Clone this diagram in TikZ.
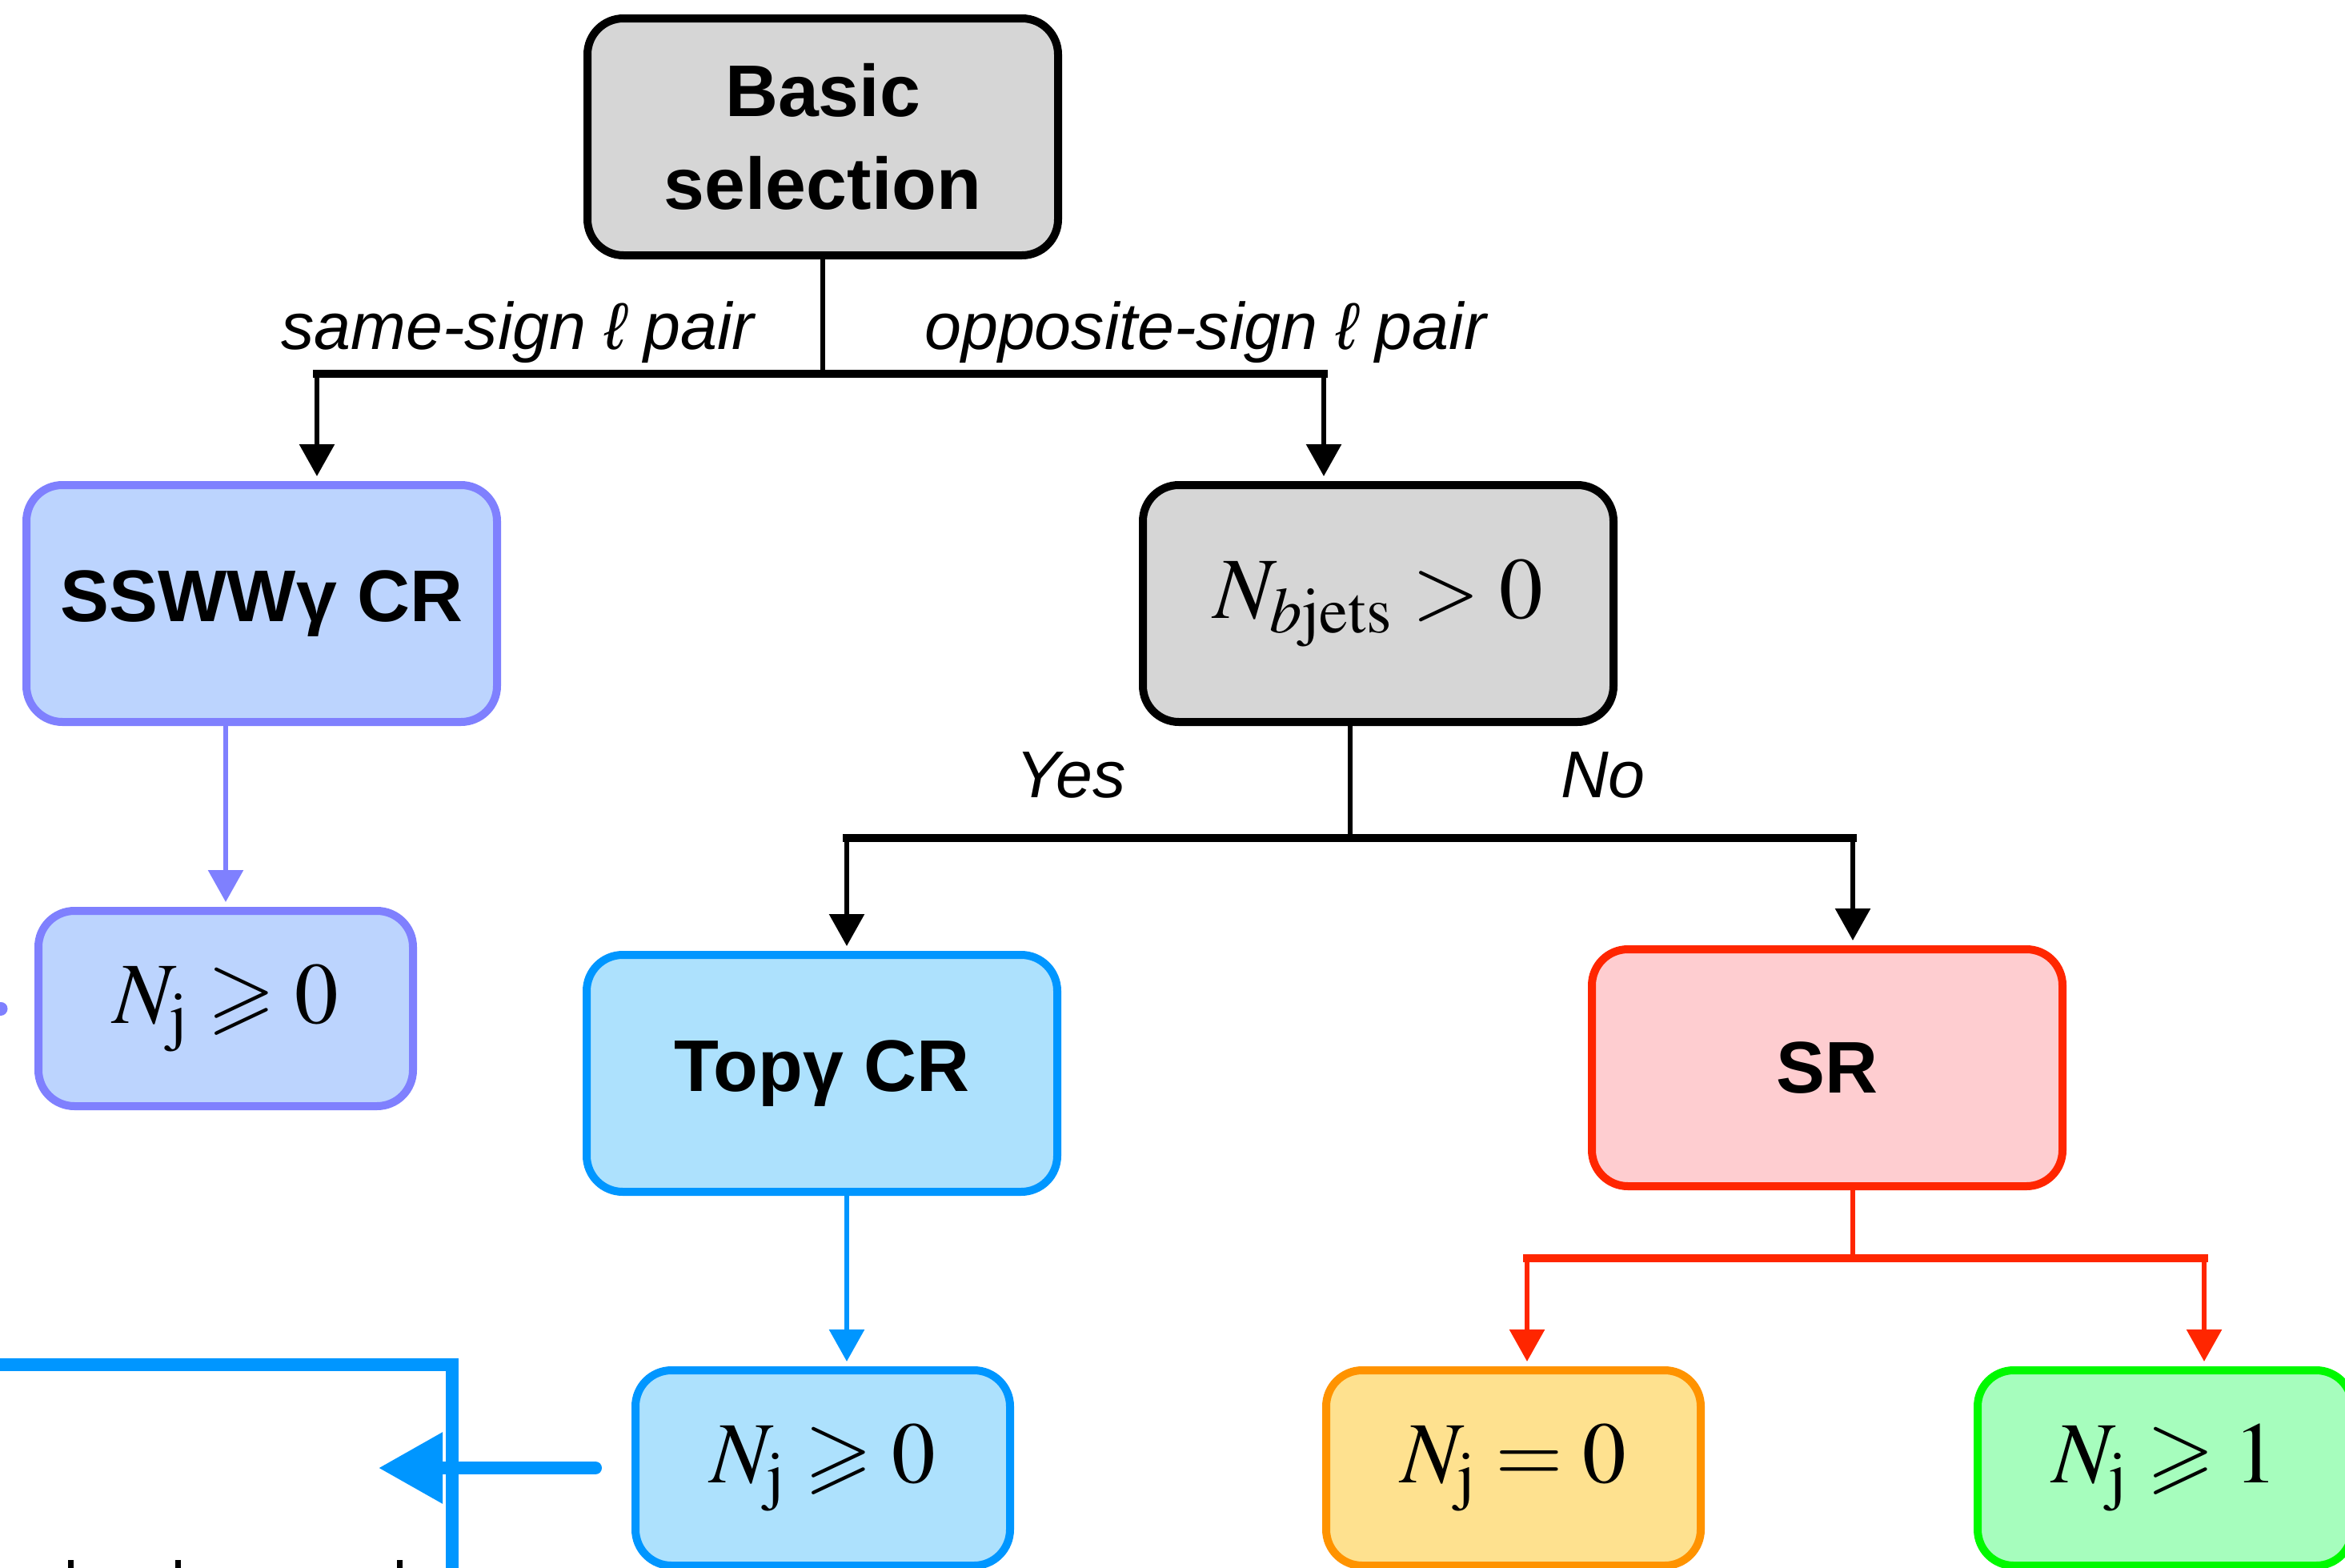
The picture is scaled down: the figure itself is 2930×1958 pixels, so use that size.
\documentclass[tikz,border=0pt]{standalone}
\usepackage{amssymb}
\usepackage{mathptmx}
\usepackage[no-math]{fontspec}
\setmainfont{Liberation Sans}
\usetikzlibrary{arrows.meta}
\definecolor{grayfill}{HTML}{D6D6D6}
\definecolor{sswwfill}{HTML}{BCD4FE}
\definecolor{sswwline}{HTML}{7F80FE}
\definecolor{topfill}{HTML}{ADE1FD}
\definecolor{topline}{HTML}{0096FF}
\definecolor{srfill}{HTML}{FECDD0}
\definecolor{srline}{HTML}{FF2600}
\definecolor{zerofill}{HTML}{FEE18F}
\definecolor{zeroline}{HTML}{FF9300}
\definecolor{onefill}{HTML}{A6FDBD}
\definecolor{oneline}{HTML}{00F900}
\begin{document}
\begin{tikzpicture}[
    x=0.1mm, y=-0.1mm,
    >={Triangle[length=4mm,width=4.3mm]},
    box/.style={draw, rounded corners=4.5mm, line width=1mm, inner sep=0pt, align=center},
    bigbox/.style={box, minimum width=58.8mm, minimum height=29.6mm},
    smallbox/.style={box, minimum width=46.8mm, minimum height=24.4mm},
    title/.style={font=\fontsize{26}{33}\selectfont\bfseries},
    cond/.style={font=\fontsize{31}{36}\selectfont},
    lbl/.style={font=\fontsize{23.5}{28}\selectfont\itshape, inner sep=0pt, anchor=base},
    stem/.style={line width=0.6mm},
    bar/.style={line width=1mm, line cap=rect},
    arr/.style={->, line width=0.6mm, shorten >=0.6mm},
    handarr/.style={->, >={Triangle[length=8mm,width=8.5mm]}, line width=1.6mm, line cap=round, topline},
]
\useasboundingbox (0,0) rectangle (2930,1958);
\clip (0,0) rectangle (2930,1958);

% Blocks
\node[bigbox, fill=grayfill, title] (basic) at (1028,171) {Basic\\selection};
\node[bigbox, fill=sswwfill, draw=sswwline, title] (ssww) at (327,754) {SSWWγ CR};
\node[bigbox, fill=grayfill, cond] (nbjets) at (1722,754) {\raisebox{-0.6mm}{$N_{b\mathrm{jets}} > 0$}};
\node[smallbox, fill=sswwfill, draw=sswwline, cond] (sswwnj) at (282,1260) {\raisebox{-0.6mm}{$N_{\mathrm{j}} \geqslant 0$}};
\node[bigbox, fill=topfill, draw=topline, title] (topcr) at (1027,1341) {Topγ CR};
\node[bigbox, fill=srfill, draw=srline, title] (sr) at (2283,1334) {SR};
\node[smallbox, fill=topfill, draw=topline, cond] (topnj) at (1028,1834) {\raisebox{-0.6mm}{$N_{\mathrm{j}} \geqslant 0$}};
\node[smallbox, fill=zerofill, draw=zeroline, cond] (nj0) at (1891,1834) {\raisebox{-0.6mm}{$N_{\mathrm{j}} = 0$}};
\node[smallbox, fill=onefill, draw=oneline, cond] (nj1) at (2705,1834) {\raisebox{-0.6mm}{$N_{\mathrm{j}} \geqslant 1$}};

% Labels
\node[lbl] (same) at (647,436) {same-sign ℓ pair};
\node[lbl] (opp) at (1506,436) {opposite-sign ℓ pair};
\node[lbl] (yes) at (1338,996) {Yes};
\node[lbl] (no) at (2003,996) {No};

% Connections
\coordinate (jaL) at (396,467);
\coordinate (jaR) at (1654,467);
\draw[stem] (basic.south) -- (basic.south |- jaL);
\draw[bar] (jaL) -- (jaR);
\draw[arr] (jaL) -- (jaL |- ssww.north);
\draw[arr] (jaR) -- (jaR |- nbjets.north);

\draw[arr, sswwline] (sswwnj.north |- ssww.south) -- (sswwnj.north);

\coordinate (jb) at (1687,1047);
\coordinate (jbL) at (1058,1047);
\coordinate (jbR) at (2315,1047);
\draw[stem] (jb |- nbjets.south) -- (jb);
\draw[bar] (jbL) -- (jbR);
\draw[arr] (jbL) -- (jbL |- topcr.north);
\draw[arr] (jbR) -- (jbR |- sr.north);

\draw[arr, topline] (jbL |- topcr.south) -- (jbL |- topnj.north);

\coordinate (jc) at (2315,1572);
\coordinate (jcL) at (1908,1572);
\coordinate (jcR) at (2754,1572);
\draw[stem, srline] (jc |- sr.south) -- (jc);
\draw[bar, srline] (jcL) -- (jcR);
\draw[arr, srline] (jcL) -- (jcL |- nj0.north);
\draw[arr, srline] (jcR) -- (jcR |- nj1.north);

% Outgoing
\coordinate (fr) at (473,1836);
\draw[handarr] ([xshift=-4.5mm]topnj.west) -- (fr |- topnj.west);
\draw[line width=1.7mm, line cap=round, sswwline] ([xshift=-4.2mm]sswwnj.west) -- ++(-60,0);
\draw[line width=1.6mm, topline] (-100,1705) -- (565,1705) -- (565,2100);
\foreach \x in {85,219,496}
    \fill (\x,1949) rectangle ++(7,20);
\end{tikzpicture}
\end{document}
